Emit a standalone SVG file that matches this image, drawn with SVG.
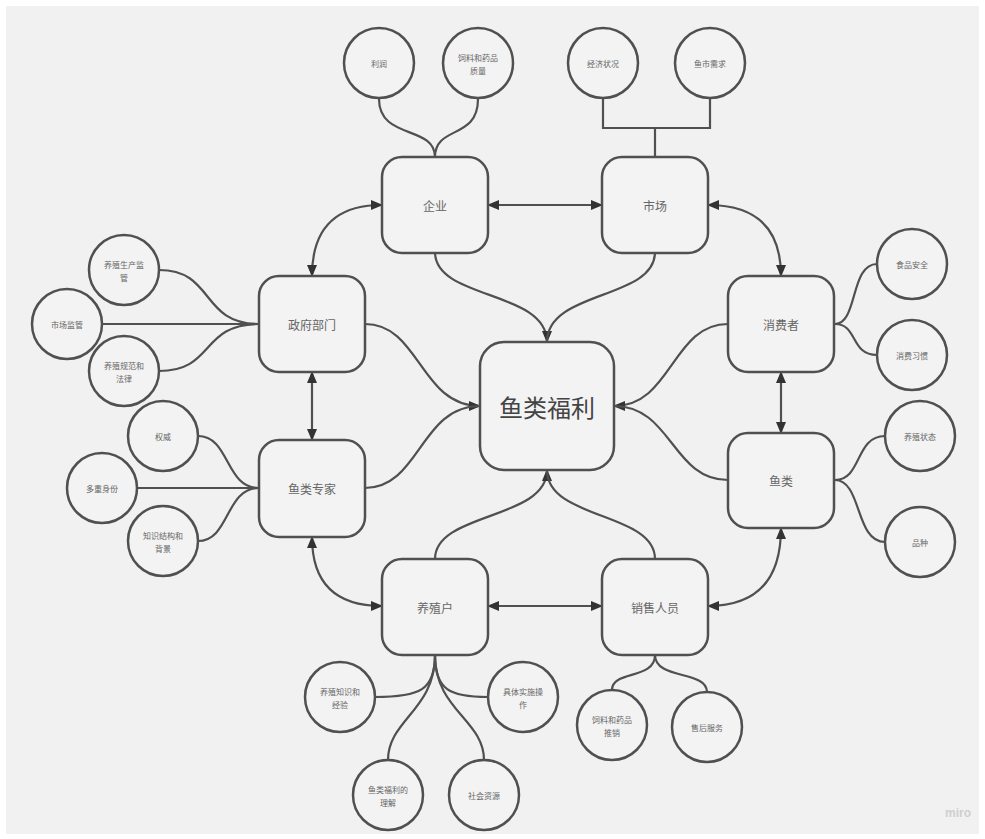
<svg xmlns="http://www.w3.org/2000/svg" width="985" height="839" viewBox="0 0 985 839">
<style>
.bx{fill:#f3f3f3;stroke:#505050;stroke-width:2.5}
.ci{fill:#f3f3f3;stroke:#505050;stroke-width:2.5}
.ln{fill:none;stroke:#505050;stroke-width:2.2}
.t{font-family:"Noto Sans CJK SC","Noto Sans",sans-serif;fill:#666;text-anchor:middle;dominant-baseline:central}
.bt{font-size:12px}
.ct{font-size:8px}
.big{font-size:24px;fill:#444}
</style>
<defs>
<marker id="ar" markerUnits="userSpaceOnUse" markerWidth="12" markerHeight="10" refX="11" refY="5" orient="auto-start-reverse">
<path d="M0,0 L12,5 L0,10 z" fill="#333"/>
</marker>
</defs>
<rect width="985" height="839" fill="#ffffff"/>
<rect x="6" y="6" width="973" height="828" fill="#f1f1f1"/>
<g id="connectors">
<path class="ln" d="M488,205 L602,205" marker-start="url(#ar)" marker-end="url(#ar)"/>
<path class="ln" d="M488,606 L602,606" marker-start="url(#ar)" marker-end="url(#ar)"/>
<path class="ln" d="M312,372 L312,440" marker-start="url(#ar)" marker-end="url(#ar)"/>
<path class="ln" d="M781,372 L781,433" marker-start="url(#ar)" marker-end="url(#ar)"/>
<path class="ln" d="M382,205 Q312,205 312,276" marker-start="url(#ar)" marker-end="url(#ar)"/>
<path class="ln" d="M708,205 Q781,205 781,276" marker-start="url(#ar)" marker-end="url(#ar)"/>
<path class="ln" d="M312,537 Q312,606 382,606" marker-start="url(#ar)" marker-end="url(#ar)"/>
<path class="ln" d="M781,528 Q781,606 708,606" marker-start="url(#ar)" marker-end="url(#ar)"/>
<path class="ln" d="M435,252 C435,300 547,290 547,342" marker-end="url(#ar)"/>
<path class="ln" d="M655,252 C655,300 547,290 547,342"/>
<path class="ln" d="M365,324 C420,324 420,406 480,406" marker-end="url(#ar)"/>
<path class="ln" d="M365,488 C420,488 420,406 480,406"/>
<path class="ln" d="M728,324 C672,324 672,406 614,406" marker-end="url(#ar)"/>
<path class="ln" d="M728,480 C672,480 672,406 614,406"/>
<path class="ln" d="M435,559 C435,512 547,520 547,470" marker-end="url(#ar)"/>
<path class="ln" d="M655,559 C655,512 547,520 547,470"/>
<path class="ln" d="M379,99 C379,140 435,125 435,157"/>
<path class="ln" d="M478,99 C478,140 435,125 435,157"/>
<path class="ln" d="M603,99 L603,128 L710,128 L710,99 M655,128 L655,157"/>
<path class="ln" d="M159,270 C215,270 200,324 259,324"/>
<path class="ln" d="M102,324 L259,324"/>
<path class="ln" d="M159,371 C215,371 200,324 259,324"/>
<path class="ln" d="M198,436 C230,436 225,488 259,488"/>
<path class="ln" d="M137,488 L259,488"/>
<path class="ln" d="M198,541 C230,541 225,488 259,488"/>
<path class="ln" d="M877,264 C850,264 858,324 835,324"/>
<path class="ln" d="M877,355 C850,355 858,324 835,324"/>
<path class="ln" d="M885,436 C855,436 862,480 835,480"/>
<path class="ln" d="M885,542 C855,542 862,480 835,480"/>
<path class="ln" d="M435,655 C435,690 420,697 375,697"/>
<path class="ln" d="M435,655 C435,690 450,697 488,697"/>
<path class="ln" d="M435,655 C435,710 388,720 388,760"/>
<path class="ln" d="M435,655 C435,710 484,720 484,760"/>
<path class="ln" d="M655,655 C655,680 612,670 612,690"/>
<path class="ln" d="M655,655 C655,680 707,670 707,692"/>
</g>
<g id="center"><rect class="bx" x="480" y="342" width="134" height="128" rx="24"/><text class="t big" x="547" y="406">鱼类福利</text></g>
<g id="qiye"><rect class="bx" x="382" y="157" width="106" height="96" rx="20"/><text class="t bt" x="435" y="205">企业</text></g>
<g id="shichang"><rect class="bx" x="602" y="157" width="106" height="96" rx="20"/><text class="t bt" x="655" y="205">市场</text></g>
<g id="zhengfu"><rect class="bx" x="259" y="276" width="106" height="96" rx="20"/><text class="t bt" x="312" y="324">政府部门</text></g>
<g id="zhuanjia"><rect class="bx" x="259" y="440" width="106" height="97" rx="20"/><text class="t bt" x="312" y="488">鱼类专家</text></g>
<g id="xiaofeizhe"><rect class="bx" x="728" y="276" width="106" height="96" rx="20"/><text class="t bt" x="781" y="324">消费者</text></g>
<g id="yulei"><rect class="bx" x="728" y="433" width="106" height="95" rx="20"/><text class="t bt" x="781" y="480">鱼类</text></g>
<g id="yangzhihu"><rect class="bx" x="382" y="559" width="106" height="96" rx="20"/><text class="t bt" x="435" y="607">养殖户</text></g>
<g id="xiaoshou"><rect class="bx" x="602" y="559" width="106" height="96" rx="20"/><text class="t bt" x="655" y="607">销售人员</text></g>
<g id="c-lirun"><circle class="ci" cx="379" cy="63" r="35"/><text class="t ct" x="379" y="63">利润</text></g>
<g id="c-siliao1"><circle class="ci" cx="478" cy="63" r="35"/><text class="t ct" x="478" y="57">饲料和药品</text><text class="t ct" x="478" y="70">质量</text></g>
<g id="c-jingji"><circle class="ci" cx="603" cy="63" r="35"/><text class="t ct" x="603" y="63">经济状况</text></g>
<g id="c-xuqiu"><circle class="ci" cx="710" cy="63" r="35"/><text class="t ct" x="710" y="63">鱼市需求</text></g>
<g id="c-jianguan1"><circle class="ci" cx="124" cy="270" r="35"/><text class="t ct" x="124" y="264">养殖生产监</text><text class="t ct" x="124" y="277">管</text></g>
<g id="c-jianguan2"><circle class="ci" cx="67" cy="324" r="35"/><text class="t ct" x="67" y="324">市场监管</text></g>
<g id="c-fagui"><circle class="ci" cx="124" cy="371" r="35"/><text class="t ct" x="124" y="365">养殖规范和</text><text class="t ct" x="124" y="378">法律</text></g>
<g id="c-quanwei"><circle class="ci" cx="163" cy="436" r="35"/><text class="t ct" x="163" y="436">权威</text></g>
<g id="c-shenfen"><circle class="ci" cx="102" cy="488" r="35"/><text class="t ct" x="102" y="488">多重身份</text></g>
<g id="c-zhishi"><circle class="ci" cx="163" cy="541" r="35"/><text class="t ct" x="163" y="535">知识结构和</text><text class="t ct" x="163" y="548">背景</text></g>
<g id="c-shipin"><circle class="ci" cx="912" cy="264" r="35"/><text class="t ct" x="912" y="264">食品安全</text></g>
<g id="c-xiguan"><circle class="ci" cx="912" cy="355" r="35"/><text class="t ct" x="912" y="355">消费习惯</text></g>
<g id="c-zhuangtai"><circle class="ci" cx="920" cy="436" r="35"/><text class="t ct" x="920" y="436">养殖状态</text></g>
<g id="c-pinzhong"><circle class="ci" cx="920" cy="542" r="35"/><text class="t ct" x="920" y="542">品种</text></g>
<g id="c-jingyan"><circle class="ci" cx="340" cy="697" r="35"/><text class="t ct" x="340" y="691">养殖知识和</text><text class="t ct" x="340" y="704">经验</text></g>
<g id="c-caozuo"><circle class="ci" cx="523" cy="697" r="35"/><text class="t ct" x="523" y="691">具体实施操</text><text class="t ct" x="523" y="704">作</text></g>
<g id="c-lijie"><circle class="ci" cx="388" cy="795" r="35"/><text class="t ct" x="388" y="789">鱼类福利的</text><text class="t ct" x="388" y="802">理解</text></g>
<g id="c-ziyuan"><circle class="ci" cx="484" cy="795" r="35"/><text class="t ct" x="484" y="795">社会资源</text></g>
<g id="c-tuixiao"><circle class="ci" cx="612" cy="725" r="35"/><text class="t ct" x="612" y="719">饲料和药品</text><text class="t ct" x="612" y="732">推销</text></g>
<g id="c-shouhou"><circle class="ci" cx="707" cy="727" r="35"/><text class="t ct" x="707" y="727">售后服务</text></g>
<text x="958" y="817" font-family="Liberation Sans,sans-serif" font-size="12" font-weight="bold" fill="#cfcfcf" text-anchor="middle">miro</text>
</svg>
